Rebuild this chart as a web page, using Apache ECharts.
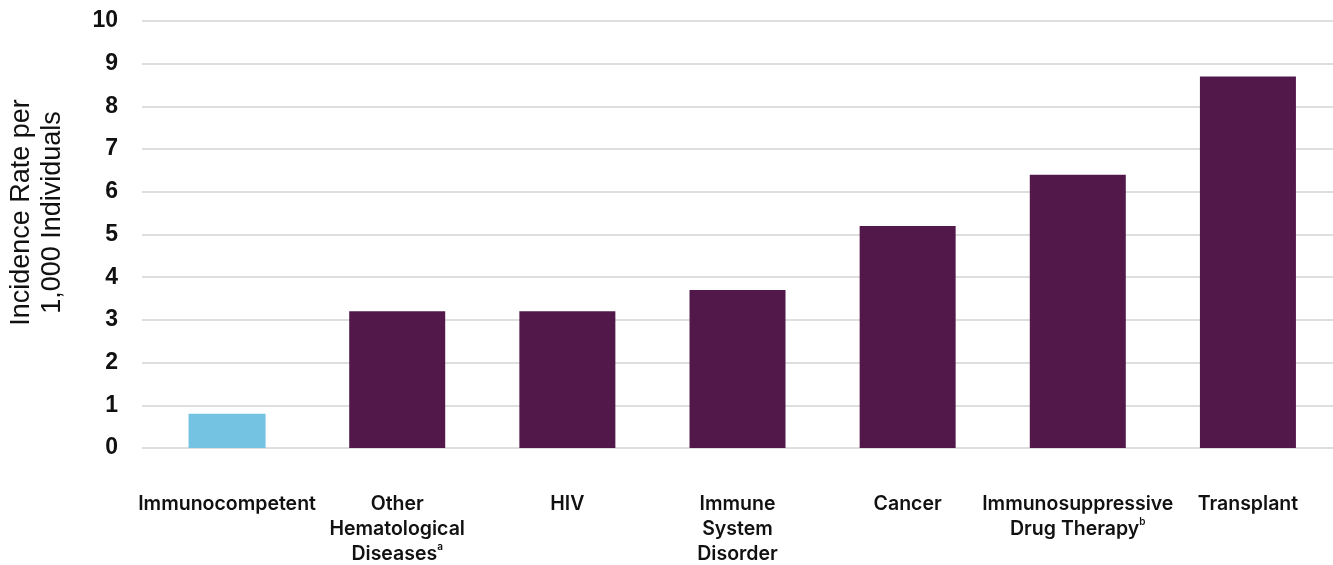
<!DOCTYPE html>
<html>
<head>
<meta charset="utf-8">
<script src="https://cdn.jsdelivr.net/npm/echarts@6/dist/echarts.min.js"></script>
<style>
  html, body { margin: 0; padding: 0; background: #fff; }
  #chart { width: 1333px; height: 565px; }
</style>
</head>
<body>
<div id="chart"></div>
<script>
// Category labels (rich-text markup adds the footnote superscripts)
const categories = [
  'Immunocompetent',
  'Other\nHematological\nDiseases{sup|a}',
  'HIV',
  'Immune\nSystem\nDisorder',
  'Cancer',
  'Immunosuppressive\nDrug Therapy{sup|b}',
  'Transplant'
];
// Incidence rate per 1,000 individuals
const referenceValues = [0.8, null, null, null, null, null, null];
const conditionValues = [null, 3.2, 3.2, 3.7, 5.2, 6.4, 8.7];
const yTicks = { min: 0, max: 10, interval: 1 };

const chart = echarts.init(document.getElementById('chart'));

const labelFont = 'Inter, "Open Sans", sans-serif';
const axisFont = '"Liberation Sans", Arial, sans-serif';

const baseX = {
  type: 'category',
  data: categories,
  axisLine: { show: false },
  axisTick: { show: false }
};

chart.setOption({
  animation: false,
  grid: { left: 142, right: 0, top: 21, bottom: 117, containLabel: false, outerBoundsMode: 'none' },
  xAxis: [
    Object.assign({}, baseX, {
      axisLabel: {
        interval: 0,
        margin: 44,
        color: '#111',
        fontFamily: labelFont,
        fontWeight: 600,
        fontSize: 19.5,
        lineHeight: 25,
        rich: {
          sup: { fontSize: 10, fontWeight: 600, fontFamily: labelFont, verticalAlign: 'top', lineHeight: 25, padding: [0, 0, 8, 0] }
        }
      }
    }),
    Object.assign({}, baseX, { show: false })
  ],
  yAxis: {
    type: 'value',
    min: yTicks.min,
    max: yTicks.max,
    interval: yTicks.interval,
    name: 'Incidence Rate per\n1,000 Individuals',
    nameLocation: 'middle',
    nameGap: 74,
    nameRotate: 90,
    nameTextStyle: {
      color: '#111',
      fontFamily: axisFont,
      fontSize: 27,
      lineHeight: 31,
      padding: [0, 0, 0, 44]
    },
    axisLabel: {
      margin: 24,
      color: '#111',
      fontFamily: axisFont,
      fontWeight: 'bold',
      fontSize: 23
    },
    axisLine: { show: false },
    axisTick: { show: false },
    splitLine: { lineStyle: { color: '#dedede', width: 2 } }
  },
  series: [
    {
      type: 'bar',
      xAxisIndex: 0,
      data: referenceValues,
      barWidth: 77,
      itemStyle: { color: '#74C3E3' }
    },
    {
      type: 'bar',
      xAxisIndex: 1,
      data: conditionValues,
      barWidth: 96,
      itemStyle: { color: '#52184A' }
    }
  ]
});
</script>
</body>
</html>
